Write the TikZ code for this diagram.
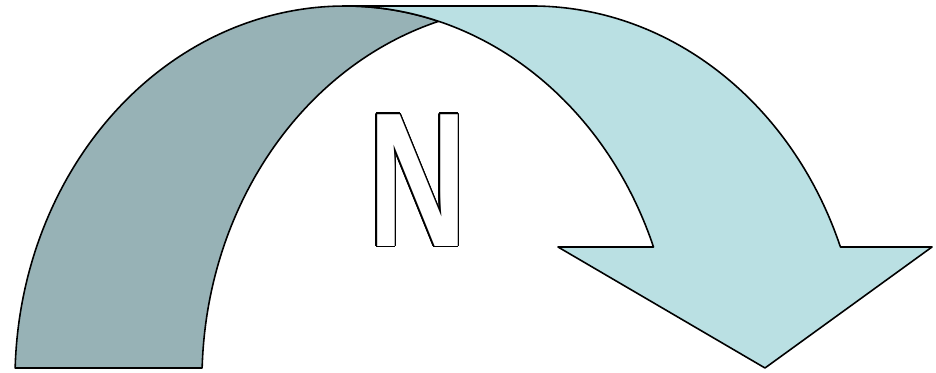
\documentclass[tikz,border=0pt]{standalone}
\usepackage{fontspec}
\setmainfont{Liberation Sans}
\usepackage{xcolor}
\usepackage{contour}
\usepackage{tikz}

\definecolor{backteal}{RGB}{151,178,182}
\definecolor{frontteal}{RGB}{186,224,227}
\contourlength{0.75pt}
\contournumber{48}

\begin{document}
\begin{tikzpicture}[line width=0.9pt,line join=round,back/.style={draw=black,fill=backteal},front/.style={draw=black,fill=frontteal},letter/.style={inner sep=0pt,font=\fontsize{100pt}{100pt}\bfseries}]
\useasboundingbox (0,0) rectangle (18.72,7.46);

\draw[back] (0.303,0.1) arc[start angle=178.16,end angle=73.54,x radius=6.6,y radius=7.48]
  arc[start angle=106.46,end angle=178.16,x radius=6.6,y radius=7.48] -- cycle;

\draw[front] (6.9,7.34) -- (10.64,7.34) arc[start angle=90,end angle=20.83,x radius=6.6,y radius=7.48]
  -- (18.64,2.52) -- (15.3,0.1) -- (11.16,2.52) -- (13.07,2.52)
  arc[start angle=20.83,end angle=90,x radius=6.6,y radius=7.48] -- cycle;

\node[letter] (n) at (8.35,3.84) {\scalebox{0.78}[1.09]{\contour{black}{\textcolor{white}{N}}}};

\end{tikzpicture}
\end{document}
